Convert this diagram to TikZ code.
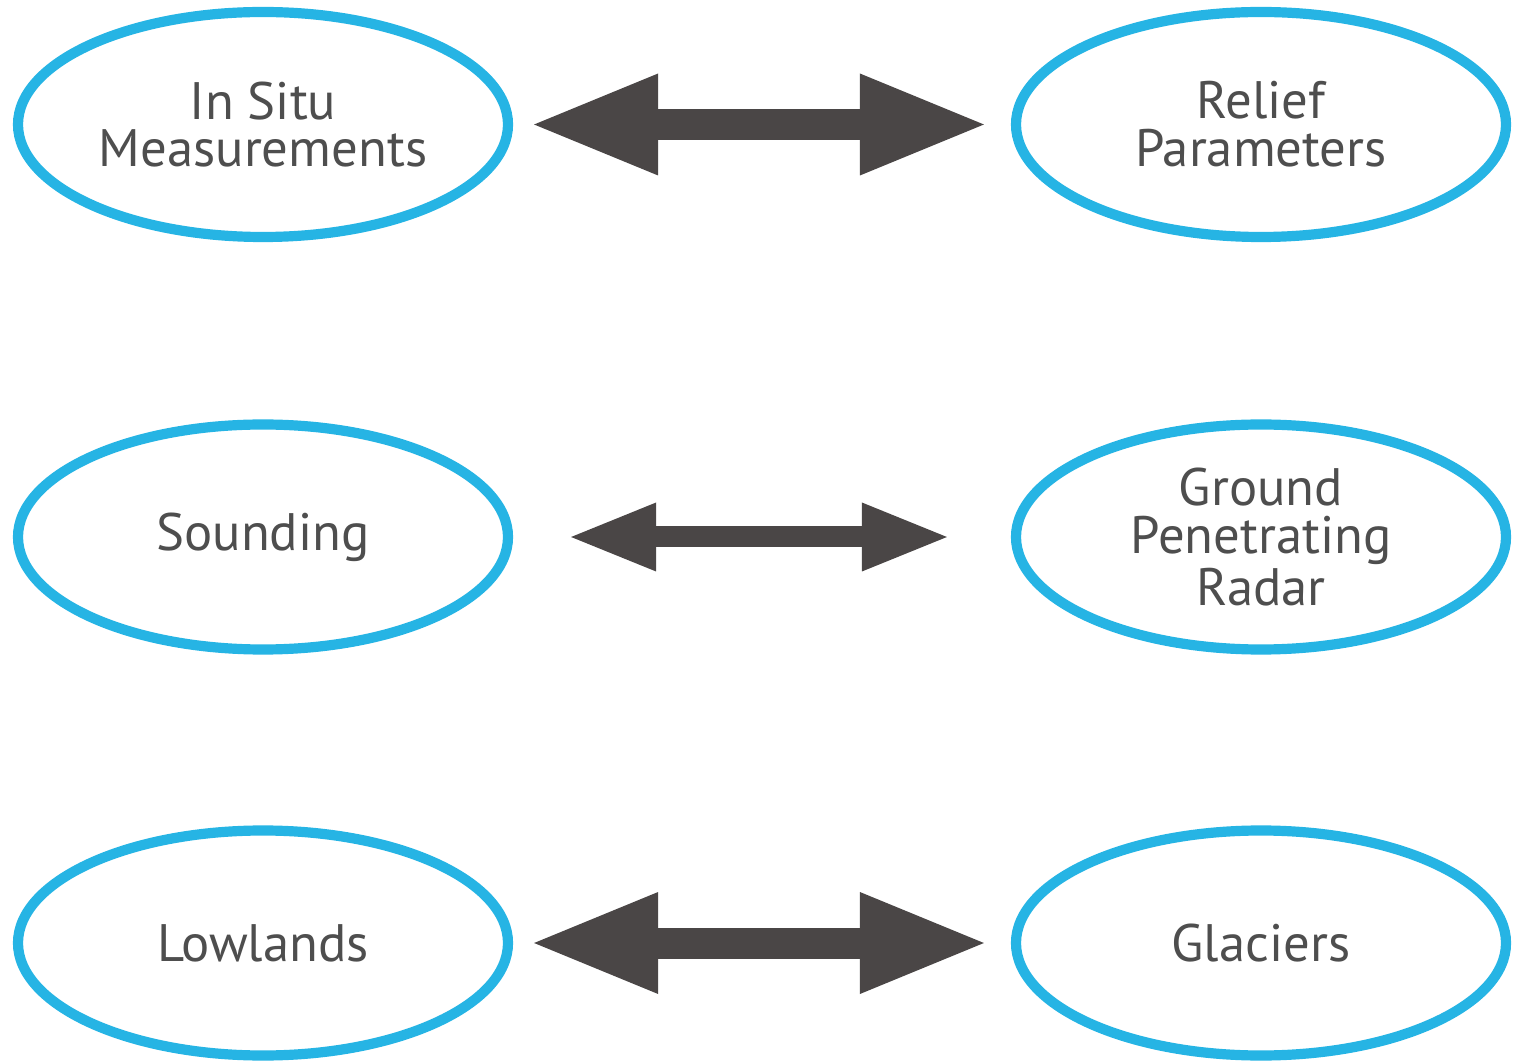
\documentclass[tikz,border=0pt]{standalone}
\usepackage{fontspec}
\setmainfont{PT Sans}
\usetikzlibrary{shapes.geometric, arrows.meta}
\definecolor{ring-color}{RGB}{38,180,228}
\definecolor{arrow-color}{RGB}{74,70,70}
\definecolor{label-color}{RGB}{78,78,78}
\tikzset{
  topic/.style={ellipse, draw=ring-color, line width=2.9pt, fill=white,
    minimum width=4.9cm, minimum height=2.25cm, inner sep=0pt,
    align=center, text=label-color, font=\fontsize{15}{13.6}\selectfont},
  widelink/.style={draw=arrow-color, line width=0.31cm,
    {Triangle[length=1.24cm, width=1.02cm, line width=0pt]}-{Triangle[length=1.24cm, width=1.02cm, line width=0pt]}},
  narrowlink/.style={draw=arrow-color, line width=0.21cm,
    {Triangle[length=0.85cm, width=0.69cm, line width=0pt]}-{Triangle[length=0.85cm, width=0.69cm, line width=0pt]}}
}

\begin{document}
\begin{tikzpicture}
    \useasboundingbox (0,0) rectangle (15.13,10.62);

    % Left column
    \node[topic] (insitu) at (2.63,9.375) {In Situ\\Measurements};
    \node[topic] (sounding) at (2.63,5.25) {Sounding};
    \node[topic] (lowlands) at (2.63,1.19) {Lowlands};

    % Right column
    \node[topic] (relief) at (12.61,9.375) {Relief\\Parameters};
    \node[topic] (gpr) at (12.61,5.25) {Ground\\Penetrating\\Radar};
    \node[topic] (glaciers) at (12.61,1.19) {Glaciers};

    % Two-way links between the columns
    \draw[widelink, shorten <=0.21cm, shorten >=0.27cm] (insitu) -- (relief);
    \draw[narrowlink, shorten <=0.58cm, shorten >=0.64cm] (sounding) -- (gpr);
    \draw[widelink, shorten <=0.21cm, shorten >=0.27cm] (lowlands) -- (glaciers);
\end{tikzpicture}
\end{document}
